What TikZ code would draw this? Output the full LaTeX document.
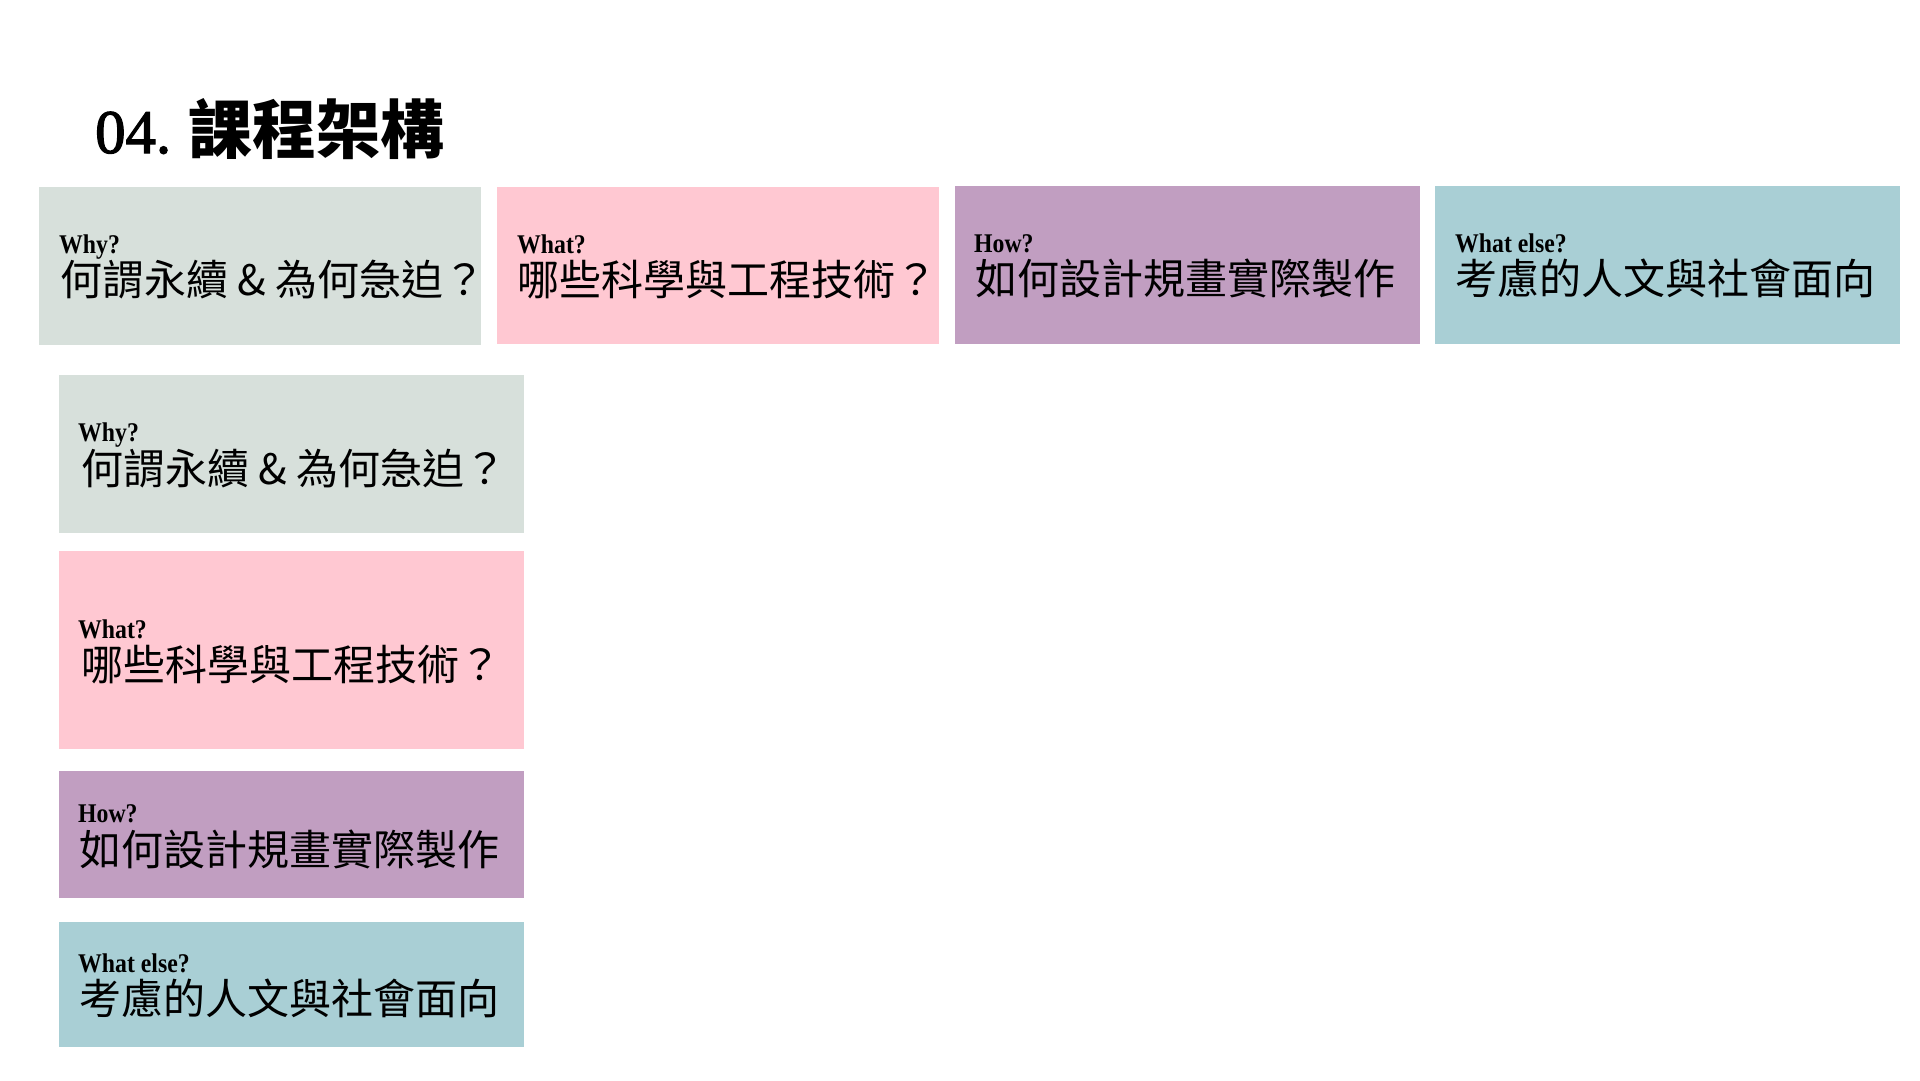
\documentclass[tikz,border=0pt]{standalone}
\usepackage{fontspec}
\setmainfont{Liberation Serif}
\newfontfamily\cjk{Noto Sans CJK TC}
\newfontfamily\titlelat{Liberation Serif}[FakeBold=2]
\newfontfamily\lab{Liberation Serif}
\definecolor{cwhy}{HTML}{D7E0DB}
\definecolor{cwhat}{HTML}{FFC8D2}
\definecolor{chow}{HTML}{C19EC1}
\definecolor{celse}{HTML}{A9CFD5}
\newcommand{\qtxt}[1]{\scalebox{0.88}[1]{\lab\bfseries\fontsize{27}{32}\selectfont #1}}
\tikzset{
  box/.style={draw=none, inner sep=0pt, anchor=north west},
  qlabel/.style={inner sep=0pt, anchor=base west},
  cntext/.style={inner sep=0pt, anchor=base west, font=\cjk\fontsize{42}{48}\selectfont},
}
\begin{document}
\begin{tikzpicture}[x=1pt,y=-1pt]
\useasboundingbox (0,0) rectangle (1920,1080);
\fill[white] (0,0) rectangle (1920,1080);
% title
\node[inner sep=0pt, anchor=base west] (title) at (95,153)
  {\scalebox{0.98}[1]{\titlelat\fontsize{62}{70}\selectfont 04.}\hspace{17pt}{\cjk\bfseries\fontsize{64}{70}\selectfont 課程架構}};
% top row
\node[box, fill=cwhy,  minimum width=442pt, minimum height=158pt] (b1) at (39,187) {};
\node[box, fill=cwhat, minimum width=442pt, minimum height=157pt] (b2) at (497,187) {};
\node[box, fill=chow,  minimum width=465pt, minimum height=158pt] (b3) at (955,186) {};
\node[box, fill=celse, minimum width=465pt, minimum height=158pt] (b4) at (1435,186) {};
\node[qlabel] (l1) at (59,253) {\qtxt{Why?}};
\node[cntext] (t1) at (60,295) {何謂永續 \& 為何急迫？};
\node[qlabel] (l2) at (517,253) {\qtxt{What?}};
\node[cntext] (t2) at (517,295) {哪些科學與工程技術？};
\node[qlabel] (l3) at (974,252) {\qtxt{How?}};
\node[cntext] (t3) at (975,294) {如何設計規畫實際製作};
\node[qlabel] (l4) at (1455,252) {\qtxt{What else?}};
\node[cntext] (t4) at (1455,294) {考慮的人文與社會面向};
% left column
\node[box, fill=cwhy,  minimum width=465pt, minimum height=158pt] (b5) at (59,375) {};
\node[box, fill=cwhat, minimum width=465pt, minimum height=198pt] (b6) at (59,551) {};
\node[box, fill=chow,  minimum width=465pt, minimum height=127pt] (b7) at (59,771) {};
\node[box, fill=celse, minimum width=465pt, minimum height=125pt] (b8) at (59,922) {};
\node[qlabel] (l5) at (78,441) {\qtxt{Why?}};
\node[cntext] (t5) at (81,484) {何謂永續 \& 為何急迫？};
\node[qlabel] (l6) at (78,638) {\qtxt{What?}};
\node[cntext] (t6) at (81,680) {哪些科學與工程技術？};
\node[qlabel] (l7) at (78,822) {\qtxt{How?}};
\node[cntext] (t7) at (79,865) {如何設計規畫實際製作};
\node[qlabel] (l8) at (78,972) {\qtxt{What else?}};
\node[cntext] (t8) at (79,1014) {考慮的人文與社會面向};
\end{tikzpicture}
\end{document}
